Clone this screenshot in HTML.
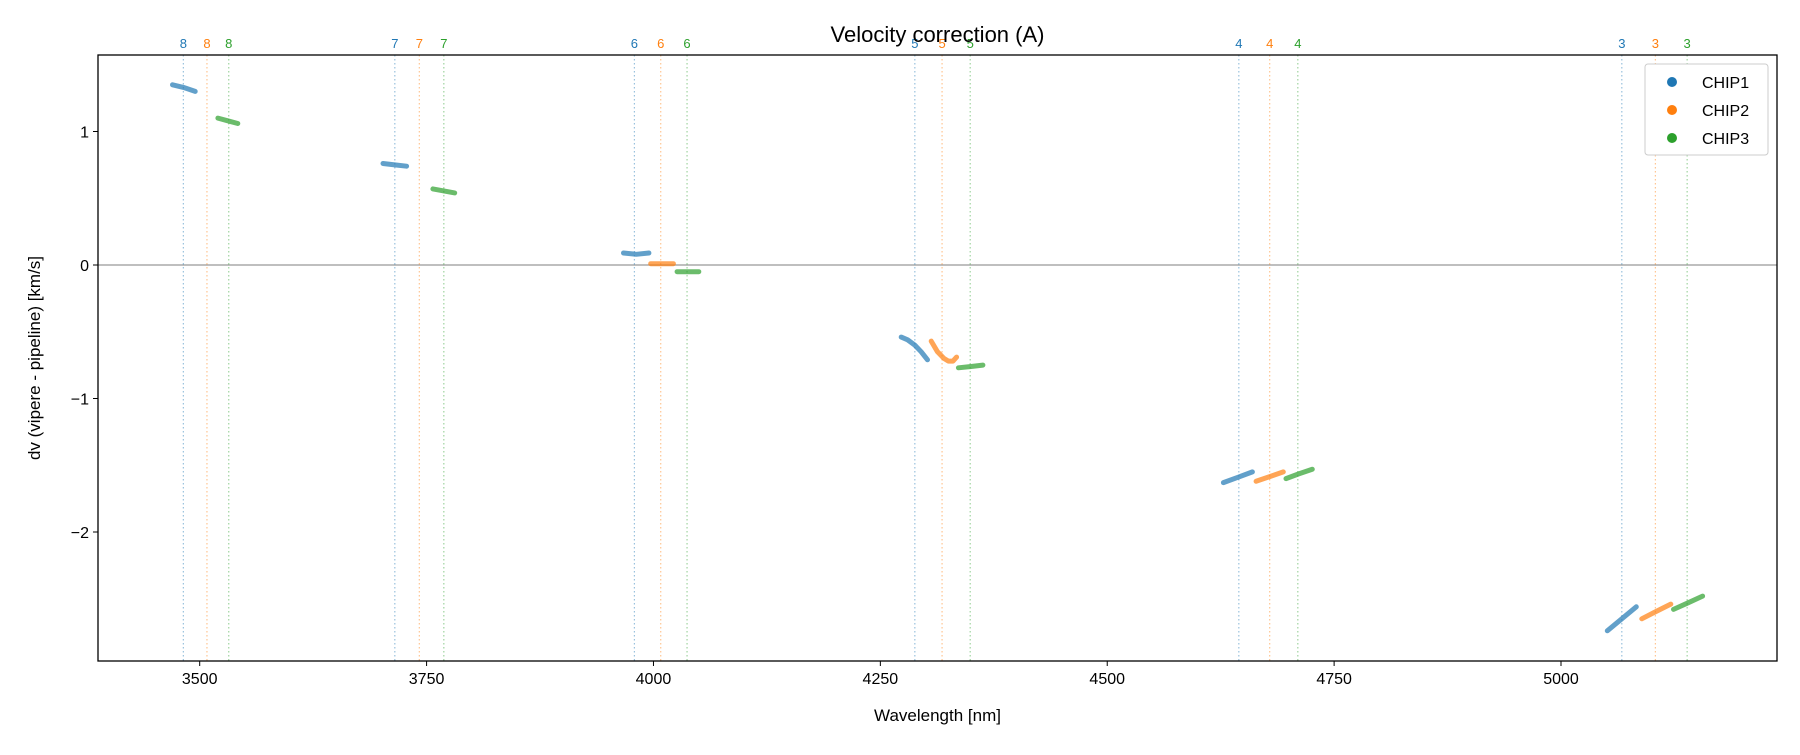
<!DOCTYPE html>
<html><head><meta charset="utf-8"><style>
body{margin:0;background:#fff}
svg{font-family:"Liberation Sans","DejaVu Sans",sans-serif}
</style></head><body>
<svg id="c" width="1800" height="750" xmlns="http://www.w3.org/2000/svg"></svg>
<script>
const orders=[8,7,6,5,4,3];
const lineWl=[[3482,3508,3532],[3715,3742,3769],[3979,4008,4037],[4288,4318,4349],[4645,4679,4710],[5067,5104,5139]];
const segChip=[0,2, 0,2, 0,1,2, 0,1,2, 0,1,2, 0,1,2];
const segWl=[[3470,3482,3495],[3520,3531,3542],[3702,3715,3728],[3757,3769,3781],
[3967,3981,3995],[3997,4010,4022],[4026,4038,4050],
[4273,4280,4288,4295,4302],[4306,4313,4320,4325,4330,4334],[4336,4350,4363],
[4628,4644,4660],[4664,4679,4694],[4697,4711,4726],
[5051,5067,5083],[5089,5105,5121],[5124,5140,5156]];
const segDv=[[1.35,1.33,1.30],[1.10,1.08,1.06],[0.76,0.75,0.74],[0.57,0.555,0.54],
[0.09,0.08,0.09],[0.01,0.01,0.01],[-0.05,-0.05,-0.05],
[-0.54,-0.56,-0.60,-0.65,-0.71],[-0.57,-0.65,-0.70,-0.72,-0.72,-0.69],[-0.77,-0.76,-0.75],
[-1.63,-1.59,-1.55],[-1.62,-1.585,-1.55],[-1.60,-1.565,-1.53],
[-2.74,-2.65,-2.56],[-2.65,-2.595,-2.54],[-2.58,-2.53,-2.48]];
const xTicks=[3500,3750,4000,4250,4500,4750,5000];
const yTicks=[1,0,-1,-2];
const chipNames=['CHIP1','CHIP2','CHIP3'];
const colors=['#1f77b4','#ff7f0e','#2ca02c'];
const L=98,R=1777,T=55,B=661;
const xs=v=>199.7+(v-3500)*(1561-199.7)/1500;
const ys=v=>265-v*133.5;
const svg=document.getElementById('c');
function el(t,a,txt){const e=document.createElementNS('http://www.w3.org/2000/svg',t);for(const k in a)e.setAttribute(k,a[k]);if(txt!==undefined)e.textContent=txt;svg.appendChild(e);return e;}
let e;
e=el('line',{x1:L,x2:R,y1:ys(0),y2:ys(0),stroke:'#999','stroke-width':1.3});


orders.forEach((o,i)=>{lineWl[i].forEach((w,c)=>{
 e=el('line',{x1:xs(w),x2:xs(w),y1:T,y2:B,stroke:colors[c],'stroke-width':1.2,'stroke-dasharray':'1.5,2.5',opacity:0.45});
 
 
 e=el('text',{x:xs(w),y:T-7,'text-anchor':'middle','font-size':13,fill:colors[c]},String(o));
 
 
});});
segWl.forEach((ws,i)=>{
 const d=ws.map((w,j)=>(j?'L':'M')+xs(w).toFixed(1)+','+ys(segDv[i][j]).toFixed(1)).join(' ');
 e=el('path',{d:d,fill:'none',stroke:colors[segChip[i]],'stroke-width':5,'stroke-linecap':'round','stroke-linejoin':'round',opacity:0.7});
 
 
});
e=el('rect',{x:L,y:T,width:R-L,height:B-T,fill:'none',stroke:'#000','stroke-width':1.3});


xTicks.forEach(t=>{
 e=el('line',{x1:xs(t),x2:xs(t),y1:B,y2:B+5,stroke:'#000','stroke-width':1});
 
 
 e=el('text',{x:xs(t),y:B+23,'text-anchor':'middle','font-size':16},String(t));
 
 
});
yTicks.forEach(t=>{
 e=el('line',{x1:L-5,x2:L,y1:ys(t),y2:ys(t),stroke:'#000','stroke-width':1});
 
 
 e=el('text',{x:L-9,y:ys(t)+6,'text-anchor':'end','font-size':16},t<0?'\u2212'+(-t):String(t));
 
 
});
e=el('text',{x:(L+R)/2,y:42,'text-anchor':'middle','font-size':22},'Velocity correction (A)');


e=el('text',{x:(L+R)/2,y:721,'text-anchor':'middle','font-size':17},'Wavelength [nm]');


e=el('text',{x:40,y:(T+B)/2,'text-anchor':'middle','font-size':17,transform:'rotate(-90 40 '+((T+B)/2)+')'},'dv (vipere - pipeline) [km/s]');


e=el('rect',{x:1645,y:64,width:123,height:91,rx:3,fill:'#fff',stroke:'#ccc','stroke-width':1});


chipNames.forEach((n,i)=>{
 const y=82+i*28;
 e=el('circle',{cx:1672,cy:y,r:5,fill:colors[i]});
 
 
 e=el('text',{x:1702,y:y+6,'font-size':16},n);
 
 
});
</script>
</body></html>
